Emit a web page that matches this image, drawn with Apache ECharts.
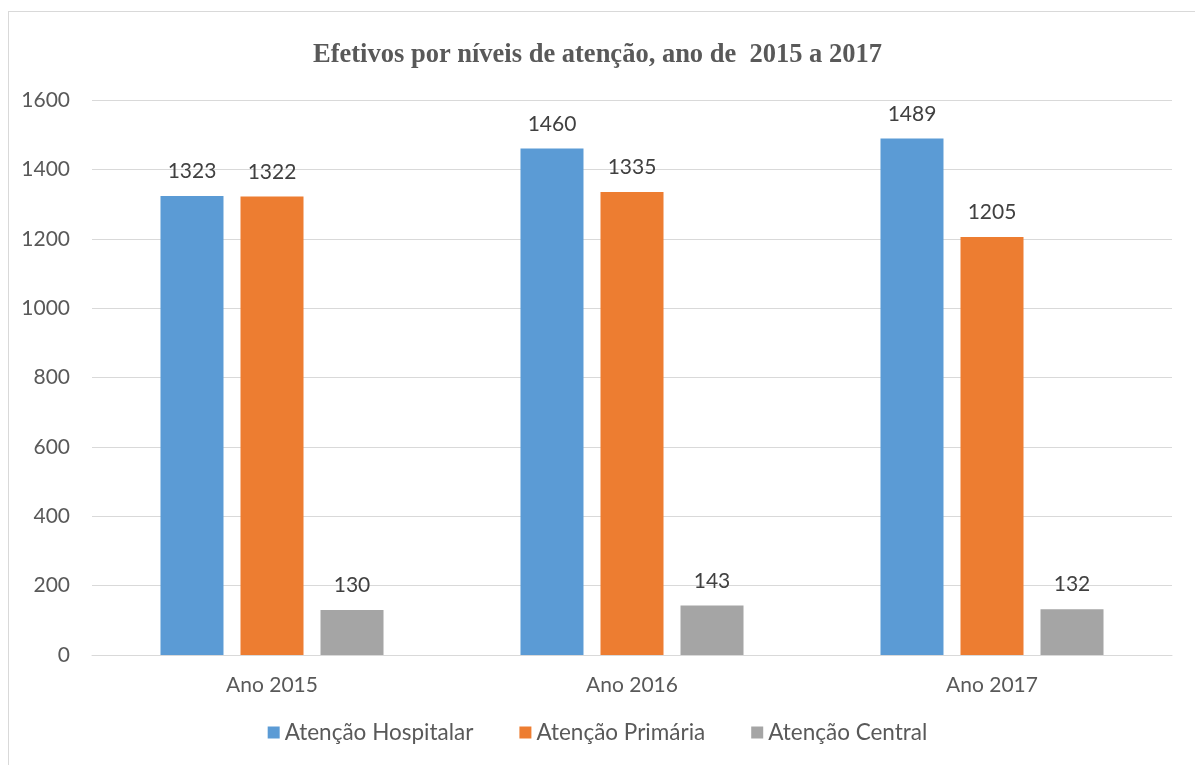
<!DOCTYPE html>
<html>
<head>
<meta charset="utf-8">
<script src="https://cdn.jsdelivr.net/npm/echarts@6/dist/echarts.min.js"></script>
<style>
  html, body { margin: 0; padding: 0; background: #fff; }
  #frame { position: absolute; left: 8px; top: 11px; width: 1200px; height: 800px; border: 1px solid #d9d9d9; }
  #chart { position: absolute; left: 0; top: 0; width: 1195px; height: 765px; }
</style>
</head>
<body>
<div id="frame"></div>
<div id="chart"></div>
<script>
var categories = ["Ano 2015", "Ano 2016", "Ano 2017"];
var hospitalar = [1323, 1460, 1489];
var primaria = [1322, 1335, 1205];
var central = [130, 143, 132];
var seriesNames = ["Atenção Hospitalar", "Atenção Primária", "Atenção Central"];
var colors = ["#5B9BD5", "#ED7D31", "#A5A5A5"];

var chart = echarts.init(document.getElementById("chart"));

function makeSeries(name, data, color) {
  return {
    name: name,
    type: "bar",
    data: data,
    barWidth: 63,
    barGap: "27%",
    itemStyle: { color: color },
    label: {
      show: true,
      position: "top",
      distance: 14,
      color: "#404040",
      fontSize: 21,
      fontFamily: "Lato"
    }
  };
}

var option = {
  animation: false,
  color: colors,
  title: {
    text: "Efetivos por níveis de atenção, ano de  2015 a 2017",
    left: "center",
    top: 37,
    textStyle: {
      fontFamily: "Liberation Serif",
      fontWeight: "bold",
      fontSize: 26.5,
      color: "#595959"
    }
  },
  grid: { left: 92, right: 23, top: 100, bottom: 110 },
  legend: {
    bottom: 16,
    left: "center",
    itemWidth: 12,
    itemHeight: 12,
    itemGap: 46,
    icon: "rect",
    textStyle: { fontFamily: "Lato", fontSize: 22.5, color: "#595959" },
    data: seriesNames
  },
  xAxis: {
    type: "category",
    data: categories,
    axisLine: { lineStyle: { color: "#d9d9d9", width: 1 } },
    axisTick: { show: false },
    axisLabel: { fontFamily: "Lato", fontSize: 21, color: "#595959", margin: 20 }
  },
  yAxis: {
    type: "value",
    min: 0,
    max: 1600,
    interval: 200,
    axisLine: { show: false },
    axisTick: { show: false },
    splitLine: { lineStyle: { color: "#d9d9d9", width: 1 } },
    axisLabel: {
      fontFamily: "Lato",
      fontSize: 21,
      color: "#595959",
      margin: 22,
      formatter: function (v) { return String(v); }
    }
  },
  series: [
    makeSeries(seriesNames[0], hospitalar, colors[0]),
    makeSeries(seriesNames[1], primaria, colors[1]),
    makeSeries(seriesNames[2], central, colors[2])
  ]
};

chart.setOption(option);
</script>
</body>
</html>
